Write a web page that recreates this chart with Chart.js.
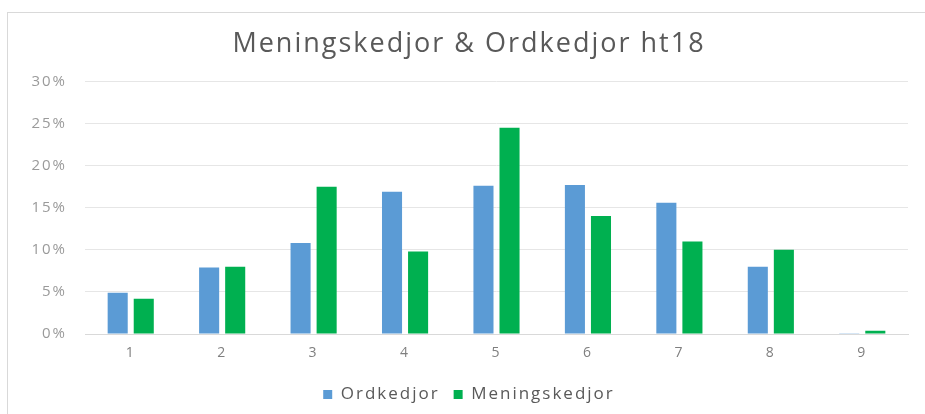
<!DOCTYPE html>
<html>
<head>
<meta charset="utf-8">
<script src="https://cdn.jsdelivr.net/npm/chart.js@4"></script>
<style>
    body { margin: 0; background: #ffffff; overflow: hidden; }
    #chart_box {
        position: absolute;
        left: 7px;
        top: 12px;
        width: 927px;
        height: 410px;
        border: 1px solid #d9d9d9;
    }
</style>
</head>
<body>
<div id="chart_box">
    <canvas id="bar_chart" width="927" height="410"></canvas>
</div>
<script>
const categories = ["1", "2", "3", "4", "5", "6", "7", "8", "9"];
const ordkedjor_values = [4.9, 7.9, 10.8, 16.9, 17.6, 17.7, 15.6, 8.0, 0.1];
const meningskedjor_values = [4.2, 8.0, 17.5, 9.8, 24.5, 14.0, 11.0, 10.0, 0.4];
const y_tick_values = [0, 5, 10, 15, 20, 25, 30];

const bar_chart_canvas = document.getElementById("bar_chart");
const bar_chart_context = bar_chart_canvas.getContext("2d");
const font_family = "'Open Sans', sans-serif";

// the original text looks a bit stretched sideways, so space the letters out
const letter_spacing_plugin = {
    id: "letter_spacing",
    beforeUpdate: function(chart){ chart.ctx.letterSpacing = "2px"; },
    beforeDraw: function(chart){ chart.ctx.letterSpacing = "2px"; }
};

var bar_data = {
    labels: categories,
    datasets: [{
        label: "Ordkedjor",
        data: ordkedjor_values,
        backgroundColor: "#5b9bd5",
        borderWidth: 0
    },{
        label: "Meningskedjor",
        data: meningskedjor_values,
        backgroundColor: "#00b050",
        borderWidth: 0
    }]
};

var bar_options = {
    responsive: false,
    animation: false,
    categoryPercentage: 0.57,
    barPercentage: 0.77,
    layout: {
        padding: { left: 22, right: 27, top: 10, bottom: 10 }
    },
    plugins: {
        title: {
            display: true,
            text: "Meningskedjor & Ordkedjor ht18",
            color: "#595959",
            font: { size: 27, family: font_family, weight: "normal" },
            padding: { top: 5, bottom: 21 }
        },
        legend: {
            position: "bottom",
            labels: {
                color: "#595959",
                boxWidth: 9,
                boxHeight: 9,
                padding: 14,
                font: { size: 17, family: font_family }
            }
        },
        tooltip: { enabled: false }
    },
    scales: {
        x: {
            grid: { display: false, drawTicks: false },
            border: { color: "#d9d9d9" },
            ticks: {
                color: "#7f7f7f",
                padding: 12,
                font: { size: 14, family: font_family, lineHeight: 1 }
            }
        },
        y: {
            min: 0,
            max: 30,
            afterBuildTicks: function(axis){
                axis.ticks = y_tick_values.map(v => ({ value: v }));
            },
            afterFit: function(axis){ axis.width = 55; },
            grid: { color: "#e6e6e6", drawTicks: false },
            border: { display: false },
            ticks: {
                color: "#9a9a9a",
                padding: 18,
                font: { size: 15, family: font_family },
                callback: function(value){ return value + "%"; }
            }
        }
    }
};

var bar_chart = new Chart(bar_chart_context, {
    type: "bar",
    data: bar_data,
    options: bar_options,
    plugins: [letter_spacing_plugin]
});
</script>
</body>
</html>
